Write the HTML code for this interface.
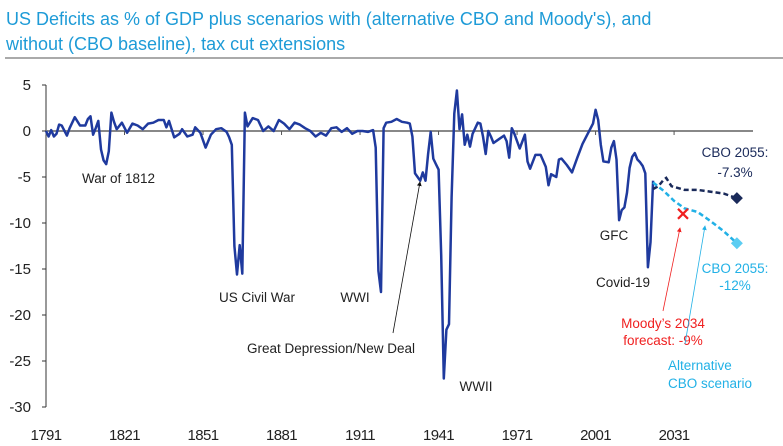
<!DOCTYPE html>
<html><head><meta charset="utf-8"><style>
body{margin:0;background:#fff;}
svg{display:block;font-family:"Liberation Sans",sans-serif;}
</style></head><body>
<svg id="chart" width="783" height="446" viewBox="0 0 783 446">
<text x="6" y="25" font-size="18" fill="#1e9bd7">US Deficits as % of GDP plus scenarios with (alternative CBO and Moody's), and</text>
<text x="6" y="50" font-size="18" fill="#1e9bd7">without (CBO baseline), tax cut extensions</text>
<line x1="5" y1="58" x2="783" y2="58" stroke="#555" stroke-width="1"/>
<g id="axes"></g>
<g id="marks"></g>
<g id="notes" font-size="13.5">
<text x="82" y="183" fill="#222">War of 1812</text>
<text x="257" y="302" text-anchor="middle" fill="#222">US Civil War</text>
<text x="355" y="302" text-anchor="middle" fill="#222">WWI</text>
<text x="331" y="353" text-anchor="middle" fill="#222">Great Depression/New Deal</text>
<text x="476" y="391" text-anchor="middle" fill="#222">WWII</text>
<text x="614" y="240" text-anchor="middle" fill="#222">GFC</text>
<text x="623" y="287" text-anchor="middle" fill="#222">Covid-19</text>
<text x="735" y="157" text-anchor="middle" fill="#1a2a5a">CBO 2055:</text>
<text x="735" y="177" text-anchor="middle" fill="#1a2a5a">-7.3%</text>
<text x="735" y="273" text-anchor="middle" fill="#22b1e6">CBO 2055:</text>
<text x="735" y="290" text-anchor="middle" fill="#22b1e6">-12%</text>
<text x="663" y="328" text-anchor="middle" fill="#f02020">Moody’s 2034</text>
<text x="663" y="345" text-anchor="middle" fill="#f02020">forecast: -9%</text>
<text x="668" y="370" fill="#22b1e6">Alternative</text>
<text x="668" y="388" fill="#22b1e6">CBO scenario</text>
</g>
<defs>
<marker id="ak" markerWidth="6" markerHeight="6" refX="5" refY="3" orient="auto"><path d="M0,0L6,3L0,6z" fill="#111"/></marker>
<marker id="ar" markerWidth="6" markerHeight="6" refX="5" refY="3" orient="auto"><path d="M0,0L6,3L0,6z" fill="#f02020"/></marker>
<marker id="ab" markerWidth="6" markerHeight="6" refX="5" refY="3" orient="auto"><path d="M0,0L6,3L0,6z" fill="#22b1e6"/></marker>
</defs>
<line x1="393" y1="333" x2="420" y2="182" stroke="#111" stroke-width="0.8" marker-end="url(#ak)"/>
<line x1="663" y1="311" x2="680" y2="228" stroke="#f02020" stroke-width="0.8" marker-end="url(#ar)"/>
<line x1="685" y1="344" x2="705" y2="226" stroke="#22b1e6" stroke-width="0.8" marker-end="url(#ab)"/>
</svg>
<script>
const years = [1791,1792,1793,1794,1795,1796,1797,1799,1800,1802,1804,1806,1807,1808,1809,1810,1811,1812,1813,1814,1815,1816,1817,1818,1820,1822,1824,1826,1828,1830,1832,1834,1836,1837,1838,1840,1842,1843,1845,1847,1848,1850,1852,1854,1856,1858,1860,1861,1862,1863,1864,1865,1866,1867,1868,1870,1872,1874,1876,1878,1880,1882,1884,1886,1888,1890,1892,1894,1896,1898,1900,1902,1904,1906,1908,1910,1912,1914,1916,1917,1918,1919,1920,1921,1923,1925,1927,1929,1930,1931,1932,1933,1934,1935,1936,1937,1938,1939,1940,1941,1942,1943,1944,1945,1946,1947,1948,1949,1950,1951,1952,1953,1954,1956,1957,1958,1959,1960,1961,1962,1964,1966,1967,1968,1969,1970,1972,1974,1975,1976,1978,1980,1982,1983,1984,1986,1987,1988,1990,1992,1994,1996,1998,2000,2001,2002,2003,2004,2006,2007,2008,2009,2010,2011,2012,2013,2014,2015,2016,2017,2018,2019,2020,2021,2022,2023];
const deficit = [0,-0.6,0.1,-0.6,-0.3,0.7,0.6,-0.5,0.3,1.5,0.6,0.6,1.3,1.6,-0.4,0.3,1.1,-2,-3.2,-3.6,-2.2,2,1,0.2,0.9,-0.2,0.8,0.6,0.2,0.8,0.9,1.2,1.2,0.4,1.1,-0.7,-0.3,0.2,-0.6,-0.4,0.4,-0.2,-1.8,-0.4,0.2,0.3,-0.1,-0.7,-1.5,-12.5,-15.6,-12.4,-15.5,2,0.5,1.4,1.2,0,0.5,0,1.2,0.8,0.2,0.9,0.7,0.3,0,-0.6,-0.2,-0.5,0.3,0.4,-0.1,0.3,-0.3,0,0,-0.1,0.1,-1.8,-15.2,-17.5,0.3,0.9,1,1.3,1,0.9,0.8,-0.6,-4.6,-5,-5.4,-4.5,-5.4,-2.5,-0.1,-3,-3.6,-4.2,-13.5,-26.9,-21.6,-21,-7.2,1.9,4.4,0.2,1.8,-1.5,-0.4,-1.7,-0.3,0.9,0.8,-0.6,-2.5,0,-0.6,-1.3,-0.9,-0.5,-1.1,-2.9,0.3,-0.3,-1.9,-0.4,-3.3,-4.1,-2.6,-2.6,-3.9,-5.9,-4.7,-5.0,-3.1,-3,-3.7,-4.5,-2.9,-1.4,-0.3,0.8,2.3,1.2,-1.5,-3.3,-3.4,-1.8,-1.1,-3.1,-9.7,-8.6,-8.3,-6.7,-4.0,-2.8,-2.4,-3.1,-3.4,-3.8,-4.6,-14.8,-12.1,-5.4,-6.3];
const baseYears = [2023,2025,2027,2028,2030,2035,2040,2045,2050,2055];
const baseVals  = [-6.3,-6.0,-5.3,-5.1,-6.0,-6.4,-6.4,-6.6,-6.8,-7.3];
const altYears = [2023,2027,2031,2035,2040,2045,2050,2055];
const altVals  = [-5.6,-6.5,-7.6,-8.4,-8.8,-9.8,-10.9,-12.2];
const moodysYear = [2034.4];
const moodysVal = [-9];
const yTicks = [5,0,-5,-10,-15,-20,-25,-30];
const xTicks = [1791,1821,1851,1881,1911,1941,1971,2001,2031];

const X = y => 46 + (y - 1791) * 2.617;
const Y = v => 131 - v * 9.2;
const NS = 'http://www.w3.org/2000/svg';
const axes = document.getElementById('axes');
const marks = document.getElementById('marks');
function mk(tag, attrs, parent){ const e=document.createElementNS(NS,tag); for(const k in attrs) e.setAttribute(k,attrs[k]); parent.appendChild(e); return e; }

let e = mk('line',{x1:46,y1:Y(5),x2:46,y2:Y(-30),stroke:'#333','stroke-width':1},axes);


yTicks.forEach(t=>{
  let tk = mk('line',{x1:42,y1:Y(t),x2:46,y2:Y(t),stroke:'#333','stroke-width':1},axes);
  
  
  let tx = mk('text',{x:31,y:Y(t)+5,'text-anchor':'end','font-size':15,fill:'#222'},axes);
  tx.textContent = t;
  
  
});
e = mk('line',{x1:46,y1:Y(0),x2:753,y2:Y(0),stroke:'#888','stroke-width':2},axes);


xTicks.forEach(t=>{
  let tk = mk('line',{x1:X(t),y1:Y(0),x2:X(t),y2:Y(0)+4,stroke:'#555','stroke-width':1},axes);
  
  
  let tx = mk('text',{x:X(t),y:440,'text-anchor':'middle','font-size':15,fill:'#222','letter-spacing':'-0.6'},axes);
  tx.textContent = t;
  
  
});

const pts = (xs,vs)=>xs.map((y,i)=>X(y).toFixed(1)+','+Y(vs[i]).toFixed(1)).join(' ');
e = mk('polyline',{points:pts(years,deficit),fill:'none',stroke:'#1f3a9e','stroke-width':2.5,'stroke-linejoin':'round'},marks);


e = mk('polyline',{points:pts(baseYears,baseVals),fill:'none',stroke:'#1a2a5a','stroke-width':2.5,'stroke-dasharray':'5,3'},marks);


e = mk('polyline',{points:pts(altYears,altVals),fill:'none',stroke:'#22b1e6','stroke-width':2.5,'stroke-dasharray':'5,3'},marks);


function diamond(x,y,c,name){
  const d = mk('path',{d:`M${x},${y-6}L${x+6},${y}L${x},${y+6}L${x-6},${y}Z`,fill:c},marks);
  
  
}
diamond(X(baseYears[baseYears.length-1]),Y(baseVals[baseVals.length-1]),'#1a2a5a','cbo-baseline-end-marker');
diamond(X(altYears[altYears.length-1]),Y(altVals[altVals.length-1]),'#5ccdf2','cbo-alternative-end-marker');
const mx = X(moodysYear[0]), my = Y(moodysVal[0]);
e = mk('path',{d:`M${mx-5},${my-5}L${mx+5},${my+5}M${mx+5},${my-5}L${mx-5},${my+5}`,stroke:'#f02020','stroke-width':2.2},marks);


</script>
</body></html>
